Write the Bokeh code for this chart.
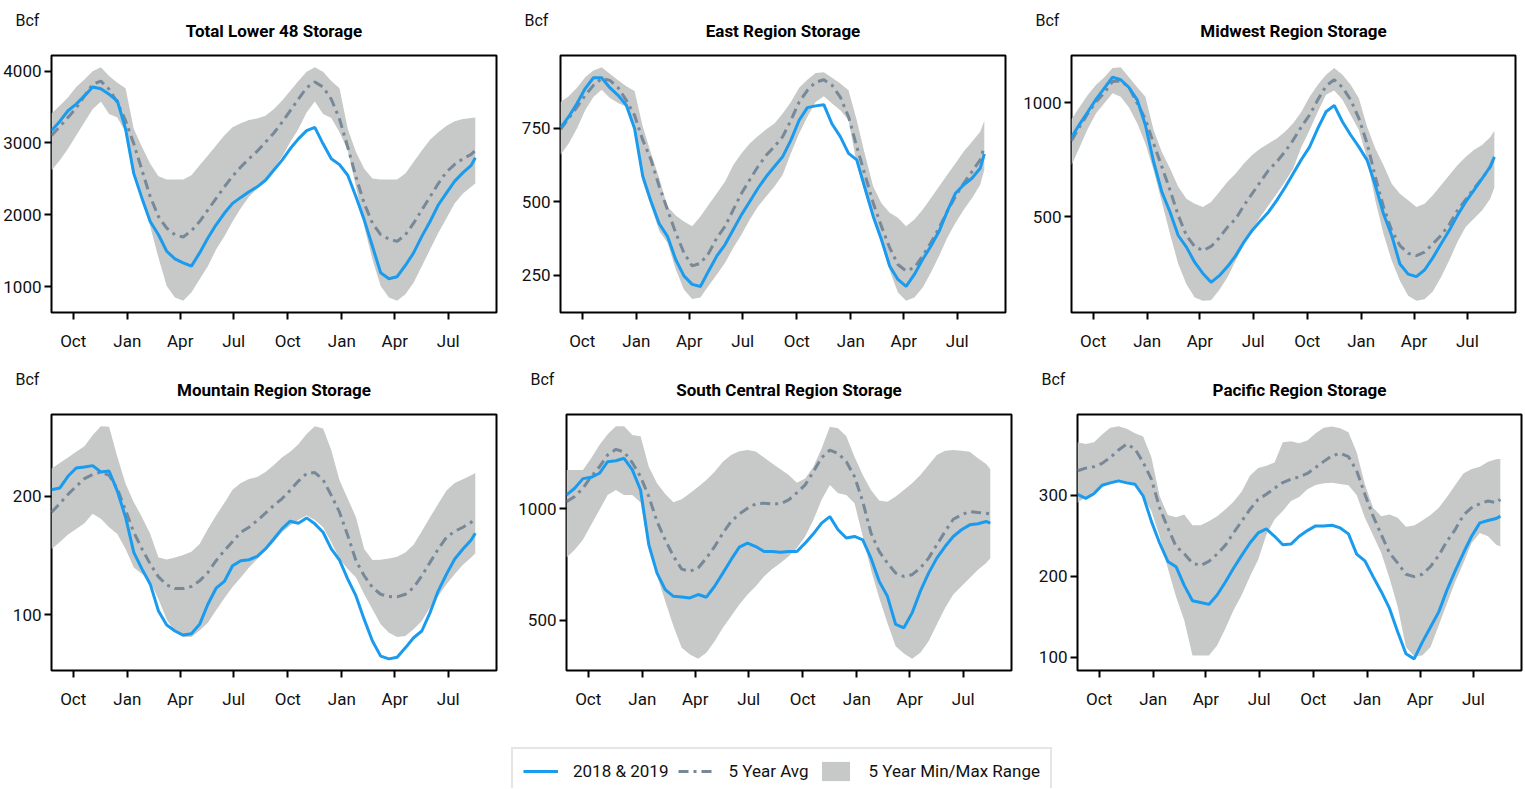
import numpy as np
import pandas as pd
from bokeh.plotting import figure
from bokeh.models import (Range1d, FixedTicker, DatetimeTickFormatter, Label,
                          Legend, LegendItem)
from bokeh.layouts import column, row
from bokeh.embed import file_html
from bokeh.resources import INLINE

# ---------------- data (biweekly, Bcf) ----------------
dates = pd.DatetimeIndex(list(pd.date_range("2017-08-25", periods=52, freq="14D"))
                         + [pd.Timestamp("2019-08-16")])

tick_dates = ["2017-10-01", "2018-01-01", "2018-04-01", "2018-07-01",
              "2018-10-01", "2019-01-01", "2019-04-01", "2019-07-01"]
tick_labels = ["Oct", "Jan", "Apr", "Jul", "Oct", "Jan", "Apr", "Jul"]

titles = ["Total Lower 48 Storage", "East Region Storage", "Midwest Region Storage",
          "Mountain Region Storage", "South Central Region Storage", "Pacific Region Storage"]
unit_label = "Bcf"

l48_cur = [3172, 3300, 3448, 3540, 3655, 3779, 3756, 3678, 3586, 3195, 2573, 2228, 1906, 1722, 1492, 1386, 1331, 1285, 1469, 1676, 1860, 2021, 2159, 2242, 2320, 2389, 2481, 2619, 2757, 2919, 3057, 3172, 3218, 2988, 2780, 2698, 2550, 2251, 1929, 1561, 1193, 1110, 1138, 1294, 1469, 1699, 1906, 2136, 2306, 2468, 2587, 2688, 2794]
l48_avg = [3103, 3227, 3356, 3485, 3655, 3816, 3862, 3747, 3563, 3310, 2988, 2619, 2251, 1975, 1814, 1722, 1690, 1777, 1906, 2067, 2228, 2389, 2537, 2665, 2780, 2886, 3011, 3135, 3287, 3448, 3609, 3770, 3848, 3779, 3609, 3333, 2942, 2527, 2159, 1883, 1722, 1662, 1630, 1722, 1883, 2067, 2251, 2435, 2596, 2702, 2780, 2840, 2896]
l48_max = [3411, 3517, 3632, 3779, 3885, 4000, 4055, 3931, 3839, 3761, 3195, 2942, 2711, 2537, 2491, 2491, 2491, 2550, 2688, 2826, 2965, 3103, 3218, 3273, 3319, 3342, 3379, 3471, 3586, 3724, 3862, 3991, 4055, 3991, 3862, 3761, 3195, 2873, 2642, 2504, 2491, 2491, 2491, 2573, 2734, 2896, 3043, 3149, 3241, 3301, 3333, 3347, 3356]
l48_min = [2619, 2757, 2919, 3103, 3287, 3471, 3577, 3402, 3356, 3149, 2540, 2190, 1837, 1400, 1009, 848, 802, 917, 1101, 1285, 1515, 1699, 1906, 2090, 2251, 2366, 2504, 2642, 2804, 3011, 3195, 3425, 3577, 3402, 3347, 3149, 2896, 2389, 1837, 1377, 1009, 848, 802, 894, 1055, 1285, 1515, 1745, 1952, 2159, 2297, 2389, 2435]

east_cur = [752, 790, 835, 886, 923, 923, 889, 863, 829, 750, 586, 501, 425, 382, 303, 247, 218, 211, 264, 315, 354, 405, 456, 501, 546, 586, 620, 654, 710, 778, 821, 827, 831, 765, 722, 665, 643, 546, 450, 371, 281, 235, 211, 252, 303, 348, 399, 467, 529, 558, 580, 614, 663]
east_avg = [747, 784, 823, 863, 897, 920, 914, 889, 846, 795, 710, 643, 552, 473, 394, 326, 281, 290, 324, 377, 416, 473, 529, 575, 620, 659, 688, 722, 778, 840, 880, 908, 916, 897, 857, 790, 688, 592, 496, 416, 343, 286, 264, 275, 315, 360, 411, 467, 518, 563, 603, 643, 688]
east_max = [840, 860, 889, 925, 948, 959, 937, 914, 894, 878, 756, 665, 580, 484, 453, 433, 416, 450, 490, 529, 569, 625, 665, 699, 724, 747, 767, 801, 840, 889, 916, 939, 942, 923, 903, 880, 778, 660, 552, 495, 462, 445, 416, 439, 473, 512, 552, 592, 631, 671, 705, 739, 776]
east_min = [660, 699, 750, 812, 857, 882, 854, 837, 824, 745, 570, 485, 400, 360, 270, 201, 168, 173, 213, 252, 292, 343, 388, 439, 484, 518, 552, 592, 665, 733, 790, 840, 860, 835, 812, 778, 630, 530, 440, 355, 265, 190, 162, 173, 207, 258, 315, 377, 428, 473, 512, 558, 609]

mw_cur = [848, 906, 960, 1015, 1063, 1111, 1100, 1066, 1012, 902, 741, 609, 521, 418, 367, 301, 252, 213, 242, 282, 330, 389, 440, 481, 521, 572, 628, 689, 751, 806, 887, 960, 988, 916, 858, 806, 748, 638, 513, 418, 293, 249, 238, 267, 320, 381, 440, 506, 565, 616, 667, 719, 762]
mw_avg = [833, 894, 953, 1004, 1044, 1092, 1095, 1067, 997, 927, 821, 719, 616, 506, 418, 370, 352, 370, 408, 455, 491, 550, 601, 653, 704, 741, 785, 836, 894, 946, 1012, 1073, 1100, 1067, 1012, 931, 821, 675, 543, 440, 374, 340, 330, 345, 381, 418, 466, 528, 575, 623, 667, 719, 762]
mw_max = [927, 982, 1034, 1078, 1111, 1151, 1155, 1111, 1067, 1026, 880, 784, 711, 631, 579, 557, 543, 565, 609, 653, 689, 733, 770, 799, 821, 843, 872, 909, 960, 1026, 1078, 1122, 1151, 1122, 1078, 1019, 894, 799, 726, 645, 601, 572, 543, 557, 594, 638, 682, 726, 762, 792, 814, 848, 877]
mw_min = [726, 806, 887, 953, 997, 1041, 1026, 979, 909, 821, 704, 565, 425, 293, 205, 147, 132, 135, 179, 235, 308, 381, 447, 499, 550, 601, 653, 711, 806, 880, 960, 1034, 1053, 1012, 946, 880, 755, 572, 425, 308, 220, 154, 132, 139, 173, 235, 308, 389, 455, 491, 528, 579, 628]

mtn_cur = [205.4, 206.8, 216.7, 223.7, 224.6, 225.7, 220.3, 221.2, 204.2, 182.2, 152.5, 138.4, 125.7, 103.1, 91.2, 86.2, 82.8, 83.9, 91.8, 108.8, 122.3, 128.0, 141.2, 145.5, 146.3, 149.1, 155.4, 163.8, 172.3, 178.8, 177.1, 181.6, 176.6, 169.5, 155.4, 146.0, 130.0, 115.8, 96.0, 77.7, 65.0, 62.7, 64.1, 72.0, 80.5, 86.2, 101.7, 120.1, 134.2, 146.9, 155.4, 163.0, 168.6]
mtn_avg = [186.4, 193.5, 201.4, 208.2, 214.7, 218.1, 220.3, 217.5, 206.2, 187.9, 169.5, 155.4, 142.7, 131.9, 125.1, 122.0, 122.0, 123.7, 128.5, 135.6, 145.5, 154.0, 161.6, 169.5, 173.7, 179.4, 185.6, 192.1, 197.7, 204.8, 212.7, 218.9, 219.8, 213.8, 200.6, 186.4, 166.7, 145.5, 132.8, 122.9, 117.2, 115.3, 115.0, 117.2, 122.9, 132.8, 144.1, 155.4, 165.3, 170.3, 173.7, 178.0, 181.6]
mtn_max = [223.2, 228.0, 232.5, 237.3, 242.1, 251.4, 259.0, 258.5, 233.1, 210.5, 194.9, 182.2, 168.1, 148.3, 146.6, 148.3, 150.3, 153.1, 159.6, 172.3, 183.6, 194.1, 205.4, 211.0, 214.4, 216.1, 220.3, 226.0, 232.5, 237.3, 243.8, 252.3, 259.0, 257.1, 238.7, 213.3, 197.7, 182.2, 155.4, 146.0, 146.3, 147.4, 148.9, 152.5, 159.0, 170.3, 182.2, 193.5, 204.8, 211.0, 214.1, 217.5, 219.5]
mtn_min = [155.4, 161.0, 167.5, 172.3, 177.1, 185.0, 180.8, 173.7, 168.1, 155.4, 139.8, 134.2, 128.0, 113.0, 96.0, 85.6, 81.1, 81.1, 86.7, 93.2, 103.7, 113.8, 123.4, 131.4, 139.8, 146.9, 154.5, 161.0, 169.5, 175.1, 179.9, 183.6, 179.9, 173.7, 161.0, 146.9, 138.4, 131.4, 117.2, 104.5, 91.8, 84.7, 81.1, 82.0, 87.6, 94.7, 106.0, 115.8, 125.7, 134.2, 142.1, 148.3, 151.7]

sc_cur = [1061, 1091, 1134, 1140, 1158, 1210, 1214, 1225, 1173, 1083, 838, 711, 637, 607, 604, 600, 615, 603, 652, 711, 771, 827, 845, 830, 808, 808, 804, 808, 808, 845, 887, 935, 964, 905, 868, 875, 860, 778, 674, 607, 481, 466, 533, 630, 711, 778, 830, 875, 905, 927, 932, 942, 935]
sc_avg = [1031, 1054, 1091, 1143, 1187, 1240, 1265, 1253, 1205, 1143, 1054, 942, 860, 786, 729, 719, 734, 778, 830, 890, 942, 976, 1001, 1021, 1024, 1021, 1021, 1039, 1071, 1106, 1165, 1228, 1262, 1247, 1210, 1143, 1031, 890, 808, 756, 711, 696, 704, 734, 778, 838, 897, 952, 972, 987, 982, 979, 976]
sc_max = [1173, 1173, 1173, 1225, 1284, 1333, 1369, 1369, 1329, 1324, 1187, 1113, 1065, 1028, 1042, 1068, 1098, 1128, 1165, 1210, 1240, 1256, 1262, 1255, 1229, 1202, 1176, 1150, 1116, 1135, 1187, 1269, 1366, 1359, 1324, 1232, 1150, 1083, 1036, 1031, 1054, 1083, 1113, 1150, 1195, 1240, 1259, 1262, 1259, 1254, 1225, 1199, 1176]
sc_min = [781, 815, 860, 927, 994, 1061, 1083, 1061, 1061, 1027, 820, 700, 585, 473, 377, 347, 327, 354, 406, 466, 518, 570, 615, 652, 696, 729, 756, 786, 823, 875, 949, 1039, 1106, 1068, 1061, 1024, 875, 726, 600, 488, 384, 351, 327, 354, 406, 481, 555, 615, 652, 689, 726, 756, 778]

pac_cur = [301.4, 296.4, 302.2, 312.6, 315.5, 317.9, 315.5, 313.8, 299.3, 268.0, 241.3, 218.5, 212.0, 189.0, 170.0, 167.9, 165.5, 177.1, 192.8, 210.2, 226.0, 241.3, 253.7, 258.7, 249.6, 239.2, 240.0, 249.6, 256.6, 262.4, 262.4, 263.2, 259.9, 252.5, 227.6, 219.3, 199.8, 181.2, 160.5, 131.5, 104.5, 98.3, 119.0, 137.7, 156.3, 183.3, 206.9, 228.9, 249.6, 266.1, 269.0, 271.5, 274.4]
pac_avg = [330.4, 333.7, 335.4, 339.5, 347.0, 356.1, 363.5, 357.3, 340.7, 320.0, 284.8, 259.9, 237.1, 228.0, 216.4, 213.5, 218.5, 227.6, 238.4, 253.7, 268.2, 282.7, 295.2, 301.4, 308.8, 315.9, 320.0, 322.9, 327.1, 334.5, 342.0, 349.0, 351.9, 347.8, 330.4, 301.4, 274.4, 251.6, 228.9, 216.4, 202.7, 199.8, 202.7, 212.3, 226.0, 243.4, 257.9, 275.7, 284.8, 289.8, 293.1, 291.0, 295.2]
pac_max = [365.6, 363.5, 365.6, 375.1, 383.4, 385.5, 382.2, 376.8, 372.7, 347.0, 299.3, 275.7, 273.2, 276.5, 263.2, 263.2, 268.2, 274.4, 282.7, 292.3, 304.7, 324.2, 333.7, 336.6, 340.7, 365.6, 366.8, 364.4, 367.7, 376.8, 383.4, 385.1, 383.0, 378.0, 353.2, 313.8, 284.8, 274.4, 276.5, 272.4, 261.2, 262.8, 269.0, 275.7, 284.8, 298.1, 313.0, 327.1, 332.5, 335.4, 341.6, 344.5, 344.9]
pac_min = [291.0, 298.1, 304.7, 312.6, 314.6, 317.1, 315.0, 312.6, 298.1, 280.7, 249.6, 210.2, 175.0, 145.9, 102.5, 102.5, 102.5, 114.9, 135.6, 158.4, 177.1, 199.8, 220.6, 251.6, 270.3, 280.7, 293.1, 298.1, 307.6, 313.0, 315.0, 315.5, 314.2, 312.6, 300.5, 272.4, 250.8, 228.9, 197.8, 162.6, 112.9, 101.6, 102.5, 112.9, 139.8, 166.7, 193.6, 216.4, 241.3, 253.7, 249.6, 239.2, 237.1]

y_ticks = [[1000, 2000, 3000, 4000], [250, 500, 750], [500, 1000],
           [100, 200], [500, 1000], [100, 200, 300, 400]]

series = [(l48_cur, l48_avg, l48_min, l48_max), (east_cur, east_avg, east_min, east_max),
          (mw_cur, mw_avg, mw_min, mw_max), (mtn_cur, mtn_avg, mtn_min, mtn_max),
          (sc_cur, sc_avg, sc_min, sc_max), (pac_cur, pac_avg, pac_min, pac_max)]

legend_labels = ["2018 & 2019", "5 Year Avg", "5 Year Min/Max Range"]

# ---------------- style ----------------
FONT = "Roboto"
BLUE = "#1a9bee"
AVG = "#778899"
BAND = "#c6c9c8"
DASH = "10 5 3 5"

tick_ms = [pd.Timestamp(d).value // 10**6 for d in tick_dates]
span = dates[-1] - dates[0]
x_start, x_end = dates[0], dates[-1] + span * 0.05
xs_ms = x_start.value / 1e6
xe_ms = x_end.value / 1e6

frame_w = [445, 445, 444]
frame_h = [257, 256]
b_left = [51, 45, 51]
b_right = [19, 15, 8]
b_top = [55, 54]


def panel(k):
    r, c = divmod(k, 3)
    cur, avg, lo, hi = series[k]
    vmin = min(min(cur), min(lo))
    vmax = max(max(cur), max(hi))
    pad = (vmax - vmin) * 0.05
    y0, y1 = vmin - pad, vmax + pad
    p = figure(frame_width=frame_w[c], frame_height=frame_h[r],
               x_axis_type="datetime",
               x_range=Range1d(x_start, x_end),
               y_range=Range1d(y0, y1),
               min_border_left=b_left[c], min_border_right=b_right[c],
               min_border_top=b_top[r], min_border_bottom=48,
               output_backend="svg", toolbar_location=None, title=None)
    p.varea(x=dates, y1=lo, y2=hi, fill_color=BAND, fill_alpha=1.0)
    p.line(x=dates, y=avg, line_color=AVG, line_width=3, line_dash=DASH)
    p.line(x=dates, y=cur, line_color=BLUE, line_width=3)

    p.grid.visible = False
    p.outline_line_color = "black"
    p.outline_line_width = 2
    p.outline_line_alpha = 1.0
    p.background_fill_color = "white"
    p.border_fill_color = "white"

    for ax in (p.xaxis[0], p.yaxis[0]):
        ax.axis_line_color = None
        ax.major_tick_line_color = "black"
        ax.major_tick_line_width = 2
        ax.major_tick_in = 0
        ax.major_tick_out = 7
        ax.minor_tick_line_color = None
        ax.major_label_text_font = FONT
        ax.major_label_text_font_size = "17px"
        ax.major_label_text_color = "#111111"

    p.xaxis.ticker = FixedTicker(ticks=tick_ms)
    p.xaxis.formatter = DatetimeTickFormatter(days="%b", months="%b", years="%b")
    p.xaxis.major_label_standoff = 11
    p.yaxis.ticker = FixedTicker(ticks=y_ticks[k])
    p.yaxis.major_label_standoff = 3

    px_x = (xe_ms - xs_ms) / frame_w[c]
    px_y = (y1 - y0) / frame_h[r]
    # panel title and unit label live in the top side panel (not clipped to frame)
    p.add_layout(Label(x=(xs_ms + xe_ms) / 2, y=y1 + 25 * px_y, x_units="data", y_units="data",
                       text=titles[k], text_font=FONT, text_font_size="17px",
                       text_font_style="bold", text_align="center",
                       text_baseline="middle", text_color="black"), "above")
    p.add_layout(Label(x=xs_ms - 36 * px_x, y=y1 + 35 * px_y, x_units="data", y_units="data",
                       text=unit_label, text_font=FONT, text_font_size="16px",
                       text_align="left", text_baseline="middle",
                       text_color="#111111"), "above")
    return p


figs = [panel(k) for k in range(6)]

# ---------------- legend strip ----------------
lf = figure(width=1523, height=70, x_range=Range1d(0, 1), y_range=Range1d(0, 1),
            x_axis_location=None, y_axis_location=None, min_border=0,
            output_backend="svg", toolbar_location=None)
lf.grid.visible = False
lf.outline_line_color = None
# legend proxies, kept outside the visible range of this strip
r_cur = lf.line(x=[-3, -2], y=[-3, -2], line_color=BLUE, line_width=3)
r_avg = lf.line(x=[-3, -2], y=[-3, -2], line_color=AVG, line_width=3, line_dash=DASH)
r_band = lf.varea(x=[-3, -2], y1=[-3, -3], y2=[-2, -2], fill_color=BAND, fill_alpha=1.0)
legend = Legend(items=[LegendItem(label=legend_labels[0], renderers=[r_cur]),
                       LegendItem(label=legend_labels[1], renderers=[r_avg]),
                       LegendItem(label=legend_labels[2], renderers=[r_band])],
                orientation="horizontal", location=(511, -7))
legend.label_text_font = FONT
legend.label_text_font_size = "17px"
legend.label_text_color = "#111111"
legend.glyph_width = 35
legend.glyph_height = 24
legend.label_standoff = 15
legend.spacing = 10
legend.padding = 10
legend.margin = 0
legend.border_line_color = "#cccccc"
legend.border_line_width = 2
legend.background_fill_alpha = 1.0
lf.add_layout(legend)

layout = column(row(*figs[:3]), row(*figs[3:]), lf)

open("out.html", "w").write(file_html(layout, INLINE))
